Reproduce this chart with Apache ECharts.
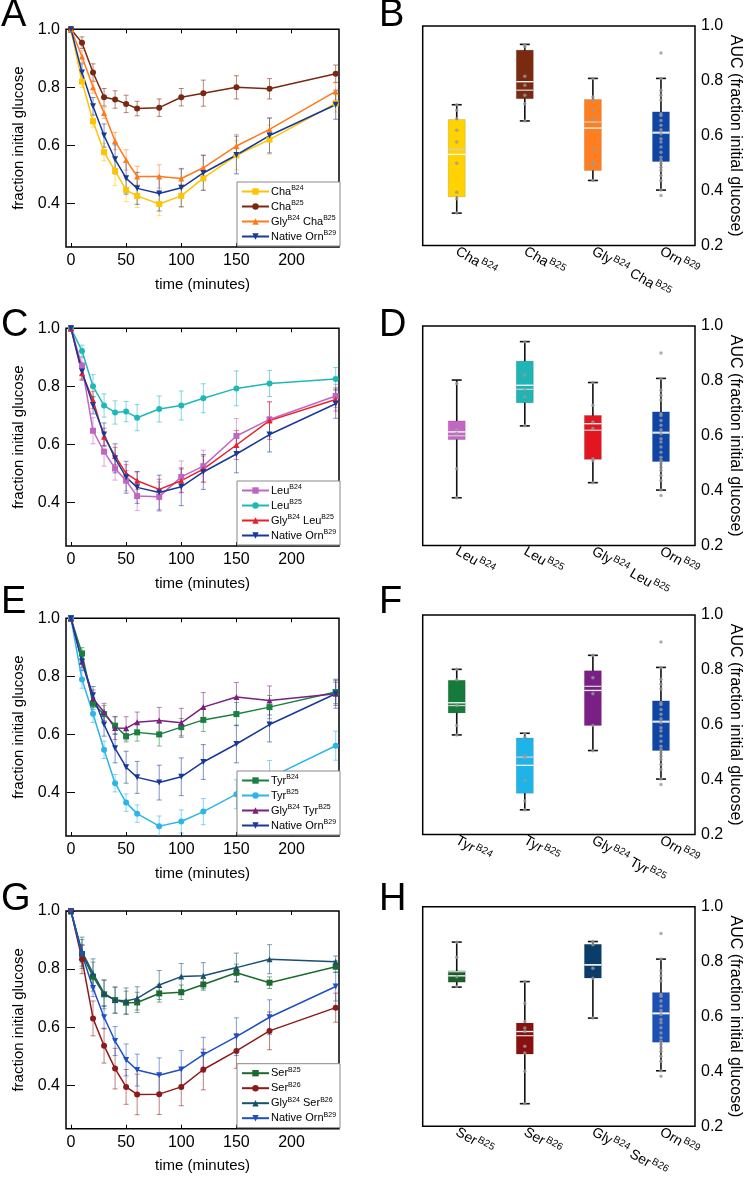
<!DOCTYPE html>
<html>
<head>
<meta charset="utf-8">
<script src="https://cdn.jsdelivr.net/npm/echarts@6/dist/echarts.min.js"></script>
<style>
html, body { margin: 0; padding: 0; background: #fff; }
#main { width: 745px; height: 1183px; }
</style>
</head>
<body>
<div id="main"></div>
<script>
// sampling times (minutes)
var times = [0, 10, 20, 30, 40, 50, 60, 80, 100, 120, 150, 180, 240];
var xTicks = [0, 50, 100, 150, 200];
var yTicks = [0.4, 0.6, 0.8, 1.0];

// native control, same curve in every panel
var ornB29 = [1.0, 0.851, 0.735, 0.634, 0.552, 0.487, 0.452, 0.434, 0.454, 0.505, 0.567, 0.634, 0.74];
var ornB29Err = [0.01, 0.03, 0.03, 0.04, 0.05, 0.055, 0.055, 0.06, 0.065, 0.06, 0.065, 0.06, 0.05];

// A
var chaB24 = [1.0, 0.82, 0.683, 0.577, 0.512, 0.446, 0.426, 0.398, 0.426, 0.487, 0.566, 0.62, 0.745];
var chaB24Err = [0.01, 0.02, 0.02, 0.03, 0.05, 0.04, 0.04, 0.04, 0.04, 0.04, 0.05, 0.05, 0.03];
var chaB25 = [1.0, 0.954, 0.851, 0.766, 0.758, 0.743, 0.727, 0.73, 0.766, 0.78, 0.80, 0.795, 0.847];
var chaB25Err = [0.01, 0.02, 0.03, 0.03, 0.03, 0.03, 0.025, 0.03, 0.03, 0.045, 0.04, 0.035, 0.03];
var glyChaB25 = [1.0, 0.906, 0.80, 0.712, 0.615, 0.55, 0.493, 0.493, 0.486, 0.523, 0.598, 0.655, 0.786];
var glyChaB25Err = [0.01, 0.02, 0.02, 0.02, 0.03, 0.035, 0.035, 0.04, 0.035, 0.045, 0.04, 0.04, 0.03];

// C
var leuB24 = [1.0, 0.87, 0.647, 0.575, 0.517, 0.475, 0.422, 0.42, 0.488, 0.525, 0.629, 0.686, 0.767];
var leuB24Err = [0.01, 0.03, 0.045, 0.05, 0.04, 0.035, 0.05, 0.05, 0.055, 0.055, 0.06, 0.06, 0.04];
var leuB25 = [1.0, 0.922, 0.80, 0.734, 0.71, 0.713, 0.692, 0.722, 0.734, 0.759, 0.793, 0.81, 0.825];
var leuB25Err = [0.01, 0.02, 0.04, 0.04, 0.04, 0.035, 0.045, 0.045, 0.05, 0.05, 0.06, 0.045, 0.04];
var glyLeuB25 = [1.0, 0.845, 0.753, 0.626, 0.56, 0.50, 0.475, 0.445, 0.475, 0.515, 0.598, 0.682, 0.755];
var glyLeuB25Err = [0.01, 0.02, 0.03, 0.03, 0.03, 0.03, 0.03, 0.035, 0.04, 0.045, 0.05, 0.065, 0.04];

// E
var tyrB24 = [1.0, 0.879, 0.706, 0.67, 0.63, 0.594, 0.607, 0.60, 0.625, 0.65, 0.67, 0.694, 0.746];
var tyrB24Err = [0.01, 0.02, 0.02, 0.03, 0.03, 0.02, 0.03, 0.04, 0.03, 0.04, 0.04, 0.04, 0.04];
var tyrB25 = [1.0, 0.789, 0.671, 0.547, 0.432, 0.365, 0.327, 0.284, 0.30, 0.334, 0.394, 0.45, 0.561];
var tyrB25Err = [0.01, 0.03, 0.03, 0.03, 0.03, 0.03, 0.03, 0.035, 0.04, 0.045, 0.05, 0.06, 0.05];
var glyTyrB25 = [1.0, 0.85, 0.723, 0.677, 0.622, 0.621, 0.642, 0.648, 0.64, 0.694, 0.729, 0.717, 0.74];
var glyTyrB25Err = [0.01, 0.02, 0.03, 0.03, 0.04, 0.04, 0.035, 0.045, 0.05, 0.05, 0.05, 0.05, 0.04];

// G
var serB25 = [1.0, 0.852, 0.774, 0.713, 0.693, 0.684, 0.685, 0.716, 0.72, 0.747, 0.787, 0.753, 0.808];
var serB25Err = [0.01, 0.05, 0.05, 0.05, 0.045, 0.04, 0.035, 0.03, 0.025, 0.02, 0.03, 0.02, 0.02];
var serB26 = [1.0, 0.834, 0.63, 0.536, 0.457, 0.394, 0.368, 0.369, 0.394, 0.454, 0.518, 0.587, 0.667];
var serB26Err = [0.01, 0.05, 0.06, 0.06, 0.07, 0.06, 0.07, 0.07, 0.065, 0.07, 0.06, 0.065, 0.05];
var glySerB26 = [1.0, 0.86, 0.785, 0.716, 0.693, 0.69, 0.699, 0.745, 0.774, 0.777, 0.805, 0.834, 0.825];
var glySerB26Err = [0.01, 0.05, 0.05, 0.045, 0.045, 0.045, 0.04, 0.05, 0.045, 0.045, 0.05, 0.05, 0.02];

// AUC boxes: [min, q1, median, q3, max]
var ornBox = [0.402, 0.506, 0.61, 0.687, 0.809];
var ornMean = 0.613;
var ornPts = [0.902, 0.809, 0.766, 0.748, 0.73, 0.68, 0.674, 0.656, 0.638, 0.622, 0.607, 0.589, 0.577,
              0.559, 0.54, 0.522, 0.51, 0.498, 0.485, 0.473, 0.455, 0.437, 0.402, 0.382];

var boxCatsB = ['Cha^B24', 'Cha^B25', 'Gly^B24 Cha^B25', 'Orn^B29'];
var boxStatsB = [[0.318, 0.378, 0.532, 0.659, 0.713], [0.654, 0.735, 0.797, 0.912, 0.933], [0.437, 0.473, 0.628, 0.732, 0.809], ornBox];
var boxMeanB = [0.55, 0.766, 0.65, ornMean];
var boxPtsB = [[0.713, 0.693, 0.662, 0.62, 0.577, 0.5, 0.394, 0.37, 0.318],
               [0.933, 0.924, 0.817, 0.784, 0.748, 0.717, 0.654],
               [0.809, 0.741, 0.729, 0.693, 0.662, 0.552, 0.504, 0.491, 0.437], ornPts];

var boxCatsD = ['Leu^B24', 'Leu^B25', 'Gly^B24 Leu^B25', 'Orn^B29'];
var boxStatsD = [[0.374, 0.586, 0.614, 0.654, 0.803], [0.636, 0.72, 0.784, 0.872, 0.943], [0.429, 0.514, 0.644, 0.674, 0.794], ornBox];
var boxMeanD = [0.60, 0.769, 0.62, ornMean];
var boxPtsD = [[0.79, 0.622, 0.608, 0.48, 0.374],
               [0.943, 0.821, 0.769, 0.742, 0.636],
               [0.794, 0.711, 0.65, 0.626, 0.516, 0.51, 0.429], ornPts];

var boxCatsF = ['Tyr^B24', 'Tyr^B25', 'Gly^B24 Tyr^B25', 'Orn^B29'];
var boxStatsF = [[0.563, 0.643, 0.68, 0.762, 0.802], [0.29, 0.35, 0.452, 0.552, 0.569], [0.506, 0.597, 0.725, 0.797, 0.853], ornBox];
var boxMeanF = [0.67, 0.482, 0.74, ornMean];
var boxPtsF = [[0.802, 0.764, 0.67, 0.597, 0.563],
               [0.568, 0.554, 0.487, 0.48, 0.397, 0.322, 0.29],
               [0.853, 0.771, 0.713, 0.597, 0.505], ornPts];

var boxCatsH = ['Ser^B25', 'Ser^B26', 'Gly^B24 Ser^B26', 'Orn^B29'];
var boxStatsH = [[0.707, 0.725, 0.748, 0.766, 0.871], [0.282, 0.463, 0.545, 0.576, 0.727], [0.594, 0.74, 0.788, 0.863, 0.873], ornBox];
var boxMeanH = [0.763, 0.53, 0.788, ornMean];
var boxPtsH = [[0.87, 0.816, 0.745, 0.709],
               [0.727, 0.648, 0.582, 0.558, 0.545, 0.491, 0.467, 0.4, 0.282],
               [0.873, 0.861, 0.776, 0.739, 0.594], ornPts];

var FONT = '"Liberation Sans", Arial, sans-serif';
var downTri = 'path://M0,0 L10,0 L5,9 Z';

var panels = [
  { line: 'A', box: 'B', lines: [
      { name: 'Cha^B24', v: chaB24, e: chaB24Err, color: '#ffc400', symbol: 'rect' },
      { name: 'Cha^B25', v: chaB25, e: chaB25Err, color: '#7a2812', symbol: 'circle' },
      { name: 'Gly^B24 Cha^B25', v: glyChaB25, e: glyChaB25Err, color: '#ff7a1c', symbol: 'triangle' },
      { name: 'Native Orn^B29#A', v: ornB29, e: ornB29Err, color: '#17399a', symbol: downTri }],
    cats: boxCatsB, stats: boxStatsB, means: boxMeanB, pts: boxPtsB,
    fills: ['#ffd200', '#7a2a10', '#ff7f20', '#0e45a6'] },
  { line: 'C', box: 'D', lines: [
      { name: 'Leu^B24', v: leuB24, e: leuB24Err, color: '#c066c2', symbol: 'rect' },
      { name: 'Leu^B25', v: leuB25, e: leuB25Err, color: '#1fb8b8', symbol: 'circle' },
      { name: 'Gly^B24 Leu^B25', v: glyLeuB25, e: glyLeuB25Err, color: '#e8202a', symbol: 'triangle' },
      { name: 'Native Orn^B29#C', v: ornB29, e: ornB29Err, color: '#17399a', symbol: downTri }],
    cats: boxCatsD, stats: boxStatsD, means: boxMeanD, pts: boxPtsD,
    fills: ['#c467c4', '#1fb5b5', '#e3161f', '#0e45a6'] },
  { line: 'E', box: 'F', lines: [
      { name: 'Tyr^B24', v: tyrB24, e: tyrB24Err, color: '#1a8040', symbol: 'rect' },
      { name: 'Tyr^B25', v: tyrB25, e: tyrB25Err, color: '#2bb5e8', symbol: 'circle' },
      { name: 'Gly^B24 Tyr^B25', v: glyTyrB25, e: glyTyrB25Err, color: '#7b2080', symbol: 'triangle' },
      { name: 'Native Orn^B29#E', v: ornB29, e: ornB29Err, color: '#17399a', symbol: downTri }],
    cats: boxCatsF, stats: boxStatsF, means: boxMeanF, pts: boxPtsF,
    fills: ['#157a3a', '#1eb4ea', '#7a1f86', '#0e45a6'] },
  { line: 'G', box: 'H', lines: [
      { name: 'Ser^B25', v: serB25, e: serB25Err, color: '#1b6b2f', symbol: 'rect' },
      { name: 'Ser^B26', v: serB26, e: serB26Err, color: '#8b1a1a', symbol: 'circle' },
      { name: 'Gly^B24 Ser^B26', v: glySerB26, e: glySerB26Err, color: '#1b4f72', symbol: 'triangle' },
      { name: 'Native Orn^B29#G', v: ornB29, e: ornB29Err, color: '#1f4fc0', symbol: downTri }],
    cats: boxCatsH, stats: boxStatsH, means: boxMeanH, pts: boxPtsH,
    fills: ['#1b5e2b', '#8a0f0f', '#0b3d6b', '#1b50b8'] }
];

var lineTops = [29.3, 328.3, 618.3, 911];
var boxTops = [26, 326, 615, 906.7];
var LH = 217.7, BH = 219.5;
var letterTops = [-3, 307, 584, 881];

function supText(s) {
  return s.replace(/#.*$/, '').replace(/\^(B\d\d)/g, '{sup|$1}');
}
// axis labels: every piece in its own rich token so the raise comes from padding
function supLabel(s) {
  return s.split(/\^(B\d\d)/).map(function (part, k) {
    if (!part) return '';
    return k % 2 ? '{sup|' + part + '}' : '{b|' + part + '}';
  }).join('');
}
function fade(hex, a) {
  var n = parseInt(hex.slice(1), 16);
  return 'rgba(' + (n >> 16) + ',' + ((n >> 8) & 255) + ',' + (n & 255) + ',' + a + ')';
}

var grids = [], xAxes = [], yAxes = [], series = [], legends = [], graphics = [];
var tickStyle = { color: '#000', width: 1 };

panels.forEach(function (p, i) {
  // ---- time course ----
  var gl = grids.length;
  grids.push({ left: 66, top: lineTops[i], width: 273, height: LH, show: true,
               borderColor: '#000', borderWidth: 1.5 });
  var xi = xAxes.length, yi = yAxes.length;
  xAxes.push({ type: 'value', gridIndex: gl, min: -4.5, max: 243, position: 'bottom',
    splitLine: { show: false }, axisLine: { show: false },
    axisTick: { inside: true, length: 4, customValues: xTicks, lineStyle: tickStyle },
    axisLabel: { customValues: xTicks, fontSize: 16, color: '#000', fontFamily: FONT, margin: 6 },
    name: 'time (minutes)', nameLocation: 'middle', nameGap: 30,
    nameTextStyle: { fontSize: 15, color: '#000', fontFamily: FONT } });
  xAxes.push({ type: 'value', gridIndex: gl, min: -4.5, max: 243, position: 'top',
    splitLine: { show: false }, axisLine: { show: false },
    axisTick: { inside: true, length: 4, customValues: xTicks, lineStyle: tickStyle },
    axisLabel: { show: false } });
  yAxes.push({ type: 'value', gridIndex: gl, min: 0.25, max: 1.0, position: 'left',
    splitLine: { show: false }, axisLine: { show: false },
    axisTick: { inside: true, length: 4, customValues: yTicks, lineStyle: tickStyle },
    axisLabel: { customValues: yTicks, fontSize: 16, color: '#000', fontFamily: FONT, margin: 6,
                 formatter: function (v) { return v.toFixed(1); } },
    name: 'fraction initial glucose', nameLocation: 'middle', nameGap: 40,
    nameTextStyle: { fontSize: 15, color: '#000', fontFamily: FONT } });
  yAxes.push({ type: 'value', gridIndex: gl, min: 0.25, max: 1.0, position: 'right',
    splitLine: { show: false }, axisLine: { show: false },
    axisTick: { inside: true, length: 4, customValues: yTicks, lineStyle: tickStyle },
    axisLabel: { show: false } });

  var names = [];
  p.lines.forEach(function (s) {
    var col = s.color;
    series.push({ type: 'custom', xAxisIndex: xi, yAxisIndex: yi, z: 2, clip: true,
      data: times.map(function (t, k) { return [t, s.v[k], s.e[k]]; }),
      encode: { x: 0, y: 1 },
      renderItem: function (params, api) {
        var x = api.value(0), y = api.value(1), e = api.value(2);
        var top = api.coord([x, y + e]), bot = api.coord([x, y - e]);
        var st = { stroke: fade(col, 0.55), lineWidth: 1 };
        return { type: 'group', children: [
          { type: 'line', shape: { x1: top[0], y1: top[1], x2: bot[0], y2: bot[1] }, style: st },
          { type: 'line', shape: { x1: top[0] - 2.5, y1: top[1], x2: top[0] + 2.5, y2: top[1] }, style: st },
          { type: 'line', shape: { x1: bot[0] - 2.5, y1: bot[1], x2: bot[0] + 2.5, y2: bot[1] }, style: st }
        ] };
      }
    });
    series.push({ type: 'line', name: s.name, xAxisIndex: xi, yAxisIndex: yi, z: 3,
      data: times.map(function (t, k) { return [t, s.v[k]]; }),
      symbol: s.symbol, symbolSize: 6, showAllSymbol: true,
      lineStyle: { color: col, width: 1.5 }, itemStyle: { color: col } });
    names.push(s.name);
  });

  legends.push({ orient: 'vertical', left: 237, top: lineTops[i] + LH - 65, width: 100,
    data: names, selectedMode: false, backgroundColor: '#fff',
    borderColor: '#888', borderWidth: 1, padding: [3, 4, 3, 4], itemGap: 2,
    itemWidth: 27, itemHeight: 8, formatter: supText,
    textStyle: { fontSize: 11, color: '#000', fontFamily: FONT, lineHeight: 13, padding: [0, 0, 0, -3],
      rich: { sup: { fontSize: 7, color: '#000', fontFamily: FONT, verticalAlign: 'top', lineHeight: 8 } } } });

  // ---- AUC boxes ----
  var gb = grids.length;
  grids.push({ left: 422.7, top: boxTops[i], width: 272.3, height: BH, show: true,
               borderColor: '#000', borderWidth: 1.5 });
  var bx = xAxes.length, by = yAxes.length;
  xAxes.push({ type: 'category', gridIndex: gb, data: p.cats, position: 'bottom',
    axisLine: { show: false },
    axisTick: { inside: true, length: 4, alignWithLabel: true, lineStyle: tickStyle },
    axisLabel: { interval: 0, rotate: -30, margin: 5, color: '#000', fontFamily: FONT,
      formatter: supLabel,
      rich: {
        b: { fontSize: 14, color: '#000', fontFamily: FONT },
        sup: { fontSize: 10, color: '#000', fontFamily: FONT, padding: [0, 0, 8, 1] }
      } } });
  xAxes.push({ type: 'category', gridIndex: gb, data: p.cats, position: 'top',
    axisLine: { show: false },
    axisTick: { inside: true, length: 4, alignWithLabel: true, lineStyle: tickStyle },
    axisLabel: { show: false } });
  yAxes.push({ type: 'value', gridIndex: gb, min: 0.2, max: 1.0, interval: 0.2, position: 'right',
    splitLine: { show: false }, axisLine: { show: false },
    axisTick: { inside: true, length: 4, lineStyle: tickStyle },
    axisLabel: { fontSize: 16, color: '#000', fontFamily: FONT, margin: 6,
                 formatter: function (v) { return v.toFixed(1); } },
    name: 'AUC (fraction initial glucose)', nameLocation: 'middle', nameRotate: -90, nameGap: 32,
    nameTextStyle: { fontSize: 16, color: '#000', fontFamily: FONT } });
  yAxes.push({ type: 'value', gridIndex: gb, min: 0.2, max: 1.0, interval: 0.2, position: 'left',
    splitLine: { show: false }, axisLine: { show: false },
    axisTick: { inside: true, length: 4, lineStyle: tickStyle },
    axisLabel: { show: false } });

  var fills = p.fills;
  series.push({ type: 'custom', xAxisIndex: bx, yAxisIndex: by, z: 2,
    data: p.stats.map(function (s, k) { return [k, s[0], s[1], s[2], s[3], s[4], p.means[k]]; }),
    encode: { x: 0, y: [1, 2, 3, 4, 5] },
    renderItem: function (params, api) {
      var k = api.value(0);
      var pMin = api.coord([k, api.value(1)]), pQ1 = api.coord([k, api.value(2)]);
      var pMed = api.coord([k, api.value(3)]), pQ3 = api.coord([k, api.value(4)]);
      var pMax = api.coord([k, api.value(5)]), pMean = api.coord([k, api.value(6)]);
      var w = api.size([1, 0])[0] * 0.25, hw = w / 2, cx = pMed[0], cap = 5;
      var blk = { stroke: '#111', lineWidth: 1.6 };
      return { type: 'group', children: [
        { type: 'line', shape: { x1: cx, y1: pMin[1], x2: cx, y2: pMax[1] }, style: blk },
        { type: 'line', shape: { x1: cx - cap, y1: pMin[1], x2: cx + cap, y2: pMin[1] }, style: blk },
        { type: 'line', shape: { x1: cx - cap, y1: pMax[1], x2: cx + cap, y2: pMax[1] }, style: blk },
        { type: 'rect', shape: { x: cx - hw, y: pQ3[1], width: w, height: pQ1[1] - pQ3[1] },
          style: { fill: fills[params.dataIndex], stroke: 'rgba(0,0,0,0.2)', lineWidth: 0.6 } },
        { type: 'line', shape: { x1: cx - hw, y1: pMean[1], x2: cx + hw, y2: pMean[1] },
          style: { stroke: '#cfcfcf', lineWidth: 1.3 } },
        { type: 'line', shape: { x1: cx - hw, y1: pMed[1], x2: cx + hw, y2: pMed[1] },
          style: { stroke: '#ffffff', lineWidth: 1.3 } }
      ] };
    }
  });
  var dots = [];
  p.pts.forEach(function (arr, k) {
    arr.forEach(function (v) { dots.push([k, v]); });
  });
  series.push({ type: 'scatter', xAxisIndex: bx, yAxisIndex: by, z: 4, data: dots,
    symbol: 'circle', symbolSize: 3.5, itemStyle: { color: '#9a9a9a' } });

  graphics.push({ type: 'text', left: 1, top: letterTops[i],
    style: { text: p.line, fontSize: 38, fontFamily: FONT, fill: '#000' } });
  graphics.push({ type: 'text', left: 379, top: letterTops[i],
    style: { text: p.box, fontSize: 38, fontFamily: FONT, fill: '#000' } });
});

var chart = echarts.init(document.getElementById('main'));
chart.setOption({
  animation: false,
  backgroundColor: '#fff',
  textStyle: { fontFamily: FONT },
  grid: grids,
  xAxis: xAxes,
  yAxis: yAxes,
  legend: legends,
  graphic: graphics,
  series: series
});
</script>
</body>
</html>
